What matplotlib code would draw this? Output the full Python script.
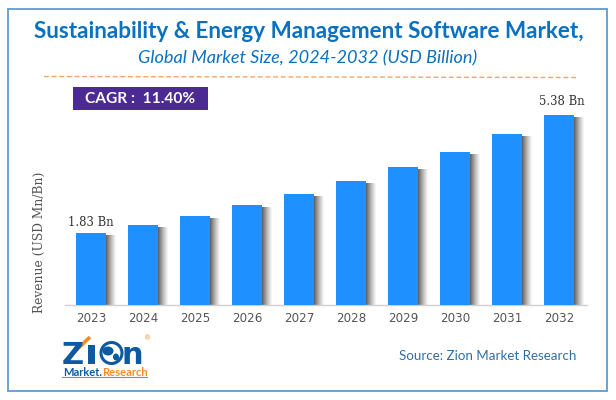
import numpy as np
import matplotlib
matplotlib.use('Agg')
import matplotlib.pyplot as plt
from matplotlib.patches import Rectangle, Circle, Ellipse

years = ['2023', '2024', '2025', '2026', '2027', '2028', '2029', '2030', '2031', '2032']
values = [1.83, 2.07, 2.34, 2.67, 3.00, 3.39, 3.82, 4.27, 4.81, 5.38]
first_label = '1.83 Bn'
last_label = '5.38 Bn'

title = 'Sustainability & Energy Management Software Market,'
subtitle = 'Global Market Size, 2024-2032 (USD Billion)'
cagr = 'CAGR :  11.40%'
ylabel = 'Revenue (USD Mn/Bn)'
source = 'Source: Zion Market Research'

W, H = 616, 400
BLUE = '#1e90ff'
NAVY = '#0b5aa2'
ORANGE = '#f28c28'

fig = plt.figure(figsize=(W / 100, H / 100), dpi=100)

# overlay in pixel coordinates for frame, headings and logo
bg = fig.add_axes([0, 0, 1, 1])
bg.set_xlim(0, W)
bg.set_ylim(H, 0)
bg.axis('off')

bg.add_patch(Rectangle((7.5, 8.5), 599.5, 382.5, fill=False, ec='#5b9bd5', lw=1.3))
bg.plot([44, 578], [76.5, 77.5], color='#f5a36c', lw=1, dashes=(3.5, 2))
bg.add_patch(Rectangle((73, 87), 135, 23, fc='#4b2a93', ec='none'))

bg.text(309, 31, title, family='Lato', weight='bold', fontsize=16.2, color='#0a70c0',
        ha='center', va='center')
bg.text(307.5, 58, subtitle, family='Lato', style='italic', fontsize=13.1, color='#0a70c0',
        ha='center', va='center')
bg.text(140, 99, cagr, family='Lato', weight='bold', fontsize=11.2, color='white',
        ha='center', va='center')
bg.text(488, 356, source, family='Lato', fontsize=9.6, color='#2f6ea5', ha='center', va='center')

# logo
bg.text(62, 364, 'Z', family='DejaVu Sans', weight='bold', fontsize=22, color=NAVY, va='baseline')
bg.plot([64, 90], [362, 337], color=ORANGE, lw=2.6, solid_capstyle='butt')
bg.add_patch(Rectangle((88, 345), 7, 19, fc=NAVY, ec='none'))
bg.add_patch(Circle((111.5, 353), 10.5, fc='white', ec=NAVY, lw=2.2))
bg.add_patch(Ellipse((108, 351), 11, 9, fc=NAVY, ec='none'))
bg.add_patch(Ellipse((116, 357), 6, 7, fc=NAVY, ec='none'))
bg.text(122, 364, 'n', family='DejaVu Sans', weight='bold', fontsize=22, color=NAVY, va='baseline')
bg.text(148, 338, '®', family='DejaVu Sans', fontsize=5, color=ORANGE, ha='center', va='center')
bg.text(63, 372.5, 'Market.', family='Lato', weight='bold', fontsize=8, color=NAVY, va='center')
bg.text(102, 372.5, 'Research', family='Lato', weight='bold', fontsize=8, color=ORANGE, va='center')
bg.plot([62, 147], [377, 377], color='#5b9bd5', lw=0.8)

# chart axes: baseline at y=305, from x=65 to x=587
ax = fig.add_axes([65 / W, 1 - 305 / H, 522 / W, 205 / H])
ax.patch.set_alpha(0)
ymin = -0.336
ax.set_ylim(ymin, 5.83)
ax.set_xlim(-0.5, 9.54)

x = np.arange(len(years))
bar_w = 30 / 52
shadow_w = 10 / 52
steps = 10
for i, v in enumerate(values):
    # soft grey shadow to the right of each bar
    for s in range(steps):
        shade = 0.6 * (1 - s / steps) ** 1.2
        ax.bar(x[i] + bar_w / 2 + s * shadow_w / steps, v - 0.06 - ymin, bottom=ymin,
               width=shadow_w / steps, align='edge', color='black', alpha=shade, lw=0)
ax.bar(x, [v - ymin for v in values], bottom=ymin, width=bar_w, color=BLUE, lw=0, zorder=3)

ax.text(x[0], values[0] + 0.13, first_label, family='DejaVu Serif', fontsize=8.4, color='#333333',
        ha='center', va='bottom')
ax.text(x[-1] + 0.05, values[-1] + 0.22, last_label, family='DejaVu Serif', fontsize=8.4,
        color='#333333', ha='center', va='bottom')

ax.set_xticks(x)
ax.set_xticklabels(years, family='DejaVu Sans', fontsize=8.6, color='#555555')
ax.tick_params(axis='x', length=0, pad=5)
ax.set_yticks([])
for side in ['top', 'right', 'left']:
    ax.spines[side].set_visible(False)
ax.spines['bottom'].set_color('#d0d0d0')
ax.spines['bottom'].set_linewidth(1)

bg.text(39, 242, ylabel, family='DejaVu Serif', fontsize=8.8, color='#555555', rotation=90,
        ha='center', va='center')

fig.savefig('out.png', dpi=100)
